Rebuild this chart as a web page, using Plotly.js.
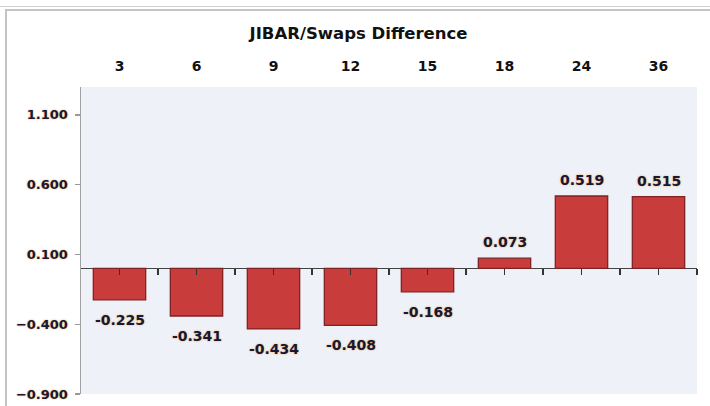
<!DOCTYPE html>
<html>
<head>
<meta charset="utf-8">
<script src="https://cdn.plot.ly/plotly-3.0.1.min.js"></script>
<style>
  html, body { margin: 0; padding: 0; background: #fff; }
  #wrap { position: relative; width: 710px; height: 406px; overflow: hidden; }
  #chart { position: absolute; left: 0; top: 0; width: 710px; height: 406px; }
  .ln { position: absolute; background: #c4c4c4; }
</style>
</head>
<body>
<div id="wrap">
  <div id="chart"></div>
  <div class="ln" style="left:0; top:6px; width:710px; height:1px; background:#d0d0d0;"></div>
  <div class="ln" style="left:5px; top:9px; width:705px; height:2px;"></div>
  <div class="ln" style="left:5px; top:9px; width:2px; height:397px;"></div>
</div>
<script>
const categories = ["3", "6", "9", "12", "15", "18", "24", "36"];
const values = [-0.225, -0.341, -0.434, -0.408, -0.168, 0.073, 0.519, 0.515];
const yTickVals = [-0.9, -0.4, 0.1, 0.6, 1.1];
const yRange = [-0.9, 1.3];

const idx = categories.map((_, i) => i);
const xRange = [-0.5, categories.length - 0.5];
const xTicks = [];
idx.forEach(i => { xTicks.push(i); xTicks.push(i + 0.5); });

const numFont = { family: "DejaVu Sans, Verdana, sans-serif", size: 13, color: "#17173a", weight: "bold",
                  shadow: "0px 0px 2px rgba(240,160,50,0.95)" };

const trace = {
  type: "bar",
  x: idx,
  y: values,
  xaxis: "x",
  yaxis: "y",
  marker: { color: "#c93c3c", line: { color: "#7e2222", width: 1.3 } },
  hoverinfo: "skip",
  showlegend: false
};
const topTrace = {
  type: "scatter", mode: "markers",
  x: idx, y: values.map(() => null),
  xaxis: "x2", yaxis: "y", showlegend: false, hoverinfo: "skip"
};

const annotations = idx.map(i => ({
  x: i, y: values[i], xref: "x", yref: "y",
  text: values[i].toFixed(3),
  showarrow: false,
  yanchor: "middle",
  yshift: values[i] >= 0 ? 16 : -20,
  font: Object.assign({}, numFont, { size: 14 })
}));

const layout = {
  width: 710, height: 406,
  margin: { l: 81, r: 13, t: 87, b: 12, pad: 0 },
  paper_bgcolor: "#ffffff",
  plot_bgcolor: "#eef2f8",
  bargap: 0.32,
  title: {
    text: "<b>JIBAR/Swaps Difference</b>",
    x: 0.505, xref: "container", xanchor: "center",
    y: 1 - 33 / 406, yref: "container", yanchor: "middle",
    font: { family: "DejaVu Sans, Verdana, sans-serif", size: 16.5, color: "#111" }
  },
  xaxis: {
    range: xRange,
    anchor: "free",
    position: (0 - yRange[0]) / (yRange[1] - yRange[0]),
    tickmode: "array", tickvals: xTicks,
    showticklabels: false,
    ticks: "outside", ticklen: 6, tickwidth: 1.2, tickcolor: "#333",
    showline: false, showgrid: false, zeroline: false, fixedrange: true
  },
  xaxis2: {
    range: xRange, overlaying: "x", side: "top", anchor: "y",
    tickmode: "array", tickvals: idx, ticktext: categories,
    ticks: "", ticklabelstandoff: 12,
    tickfont: Object.assign({}, numFont, { size: 14, shadow: "none", color: "#111" }),
    showline: false, showgrid: false, zeroline: false
  },
  yaxis: {
    range: yRange,
    tickmode: "array", tickvals: yTickVals,
    tickformat: ".3f",
    ticks: "outside", ticklen: 5, tickwidth: 1.2, tickcolor: "#999",
    showline: true, linecolor: "#a0a0a0", linewidth: 1.5,
    showgrid: false,
    zeroline: true, zerolinecolor: "#444", zerolinewidth: 1.5,
    tickfont: numFont, ticklabelstandoff: 4
  },
  annotations: annotations
};

Plotly.newPlot("chart", [trace, topTrace], layout, { displayModeBar: false, staticPlot: true });
</script>
</body>
</html>
